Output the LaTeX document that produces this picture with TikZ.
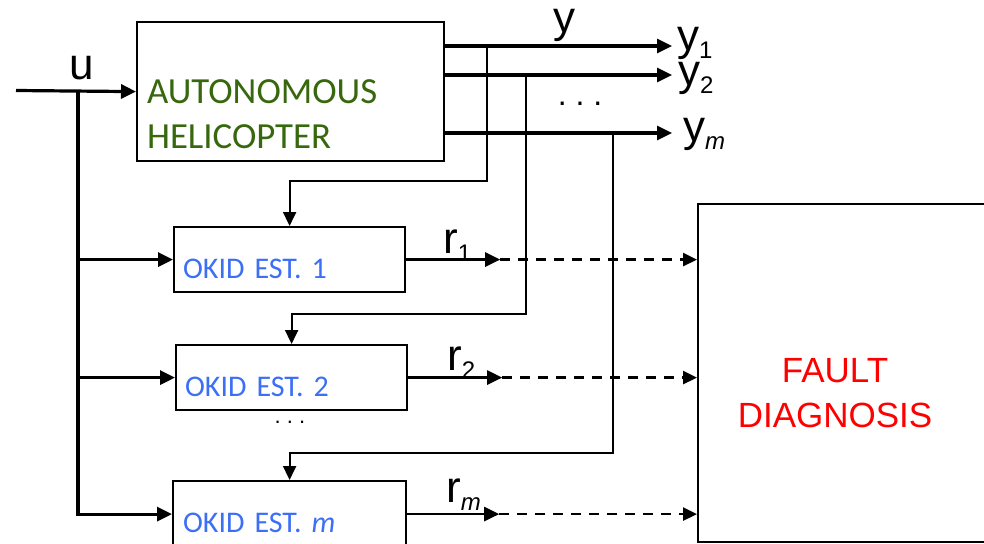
\documentclass[tikz,border=0pt]{standalone}
\usepackage{fontspec}
\setmainfont{Liberation Sans}
\newfontfamily\calfont{Carlito}
\usepackage{tikz}
\usetikzlibrary{arrows.meta, positioning}

\definecolor{heligreen}{RGB}{56,104,14}
\definecolor{okidblue}{RGB}{61,111,245}
\newcommand{\lblsub}[1]{\raisebox{-8pt}{\fontsize{24}{24}\selectfont #1}}

\tikzset{
  box/.style={draw, line width=2.2pt, rectangle, anchor=north west, inner sep=0pt},
  estbox/.style={box, minimum width=231pt, minimum height=65pt, text width=213pt,
    align=left, text height=37pt, text depth=0pt,
    font=\calfont\fontsize{30}{36}\selectfont, text=okidblue},
  lbl/.style={font=\fontsize{44}{44}\selectfont, inner sep=0pt},
  sig/.style={line width=3.2pt, -{Triangle[length=15pt,width=14pt]}},
  tap/.style={line width=2pt, -{Triangle[length=14pt,width=13pt]}},
  resid/.style={line width=2.5pt, dash pattern=on 10pt off 8pt, -{Triangle[length=14pt,width=13pt]}},
}

\begin{document}
\begin{tikzpicture}[x=1pt, y=-1pt]
  \useasboundingbox (0,0) rectangle (984,543);
  \clip (0,0) rectangle (984,543);

  % blocks
  \node[box, minimum width=307pt, minimum height=139pt, text width=287pt, align=left,
    text height=50pt, text depth=27pt, font=\calfont\fontsize{36.8}{45}\selectfont,
    text=heligreen] (heli) at (136,21) {AUTONOMOUS\\HELICOPTER};
  \node[estbox] (est1) at (173,226) {OKID EST. 1};
  \node[estbox] (est2) at (175,344) {OKID EST. 2};
  \node[estbox, minimum width=233pt, minimum height=66pt] (estm) at (172,480) {OKID EST. \textit{m}};
  \node[box, minimum width=330pt, minimum height=338pt] (fault) at (697,203) {};
  \node[font=\fontsize{35}{45}\selectfont, text=red, align=center] (faultlbl) at (835,393) {FAULT\\DIAGNOSIS};

  % input u
  \coordinate (uin) at (16,90.5);
  \coordinate (ubus) at (78,90.5);
  \draw[sig] (uin) -- (heli.west);
  \draw[sig] (ubus) |- (est1.west);
  \draw[sig] (ubus) |- (est2.west);
  \draw[sig] (ubus) |- (estm.west);
  \node[lbl, anchor=base] (ulbl) at (82,79) {u};

  % outputs y
  \coordinate (yo1) at (672,46);
  \coordinate (yo2) at (672,75);
  \coordinate (yom) at (672,133);
  \foreach \o in {yo1,yo2,yom}{
    \draw[sig] (\o -| heli.east) -- (\o);
  }
  \node[lbl, anchor=base] (ylbl) at (564,33) {y};
  \node[lbl, anchor=base west, text depth=0pt] (ylbl1) at (677,51) {y\lblsub{1}};
  \node[lbl, anchor=base west, text height=26pt] (ylbl2) at (678,85) {y\lblsub{2}};
  \node[lbl, anchor=base west] (ylblm) at (683,141) {y\lblsub{\textit{m}}};
  \node[font=\fontsize{32}{32}\selectfont, anchor=base] (ydots) at (580,105) {.\ .\ .};

  % taps to the estimators
  \coordinate (tap1) at (487,46);
  \coordinate (tap2) at (526,75);
  \coordinate (tap3) at (613,133);
  \draw[tap] (tap1) -- ++(0,135) -| (est1.north);
  \draw[tap] (tap2) -- ++(0,239) -| (est2.north);
  \draw[tap] (tap3) -- ++(0,320) -| (estm.north);
  \node[font=\fontsize{22}{22}\selectfont, anchor=base] (estdots) at (290,423) {.\ .\ .};

  % residuals
  \draw[sig, line width=2.6pt] (est1.east) -- ++(94,0) coordinate (rt1);
  \draw[sig, line width=2.6pt] (est2.east) -- ++(94,0) coordinate (rt2);
  \draw[sig, line width=2.6pt] (estm.east) -- ++(92,0) coordinate (rtm);
  \draw[resid] (rt1) -- (rt1 -| fault.west);
  \draw[resid] (rt2) -- (rt2 -| fault.west);
  \draw[resid] (rtm) -- (rtm -| fault.west);
  \node[lbl, anchor=base west] (rlbl1) at (443,253) {r\lblsub{1}};
  \node[lbl, anchor=base west] (rlbl2) at (447,370) {r\lblsub{2}};
  \node[lbl, anchor=base west] (rlblm) at (446,502) {r\lblsub{\textit{m}}};
\end{tikzpicture}
\end{document}
